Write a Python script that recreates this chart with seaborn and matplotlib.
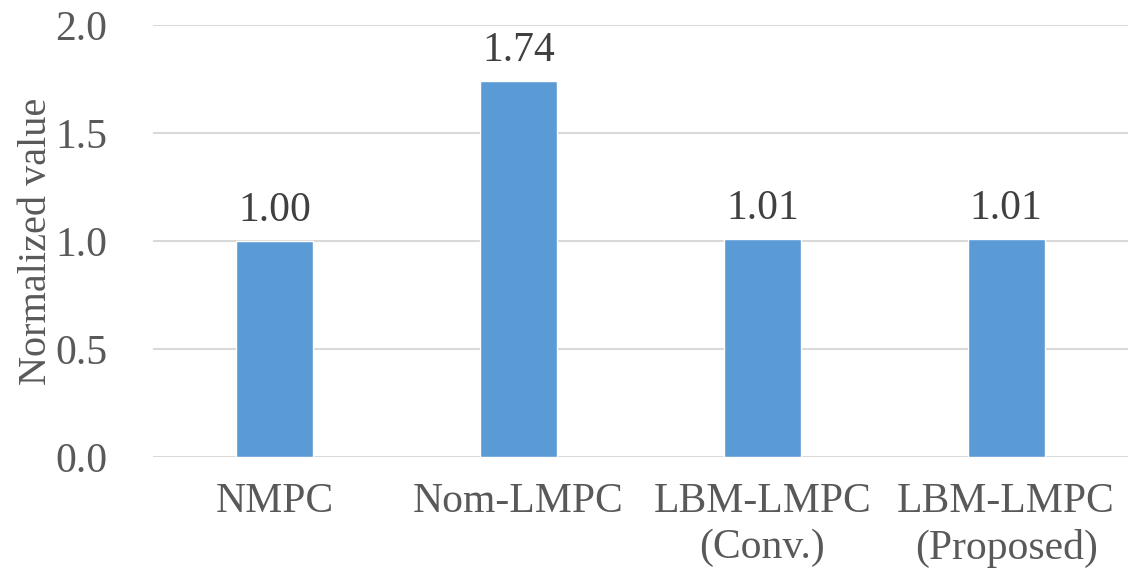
import matplotlib
matplotlib.use("Agg")
import matplotlib.pyplot as plt
from matplotlib import font_manager
import seaborn as sns
import pandas as pd

categories = ["NMPC", "Nom-LMPC", "LBM-LMPC\n(Conv.)", "LBM-LMPC\n(Proposed)"]
values = [1.00, 1.74, 1.01, 1.01]
yticks = [0.0, 0.5, 1.0, 1.5, 2.0]

sns.set_theme(style="white")
installed = {f.name for f in font_manager.fontManager.ttflist}
serif_choices = [n for n in ["Liberation Serif", "Times New Roman", "Nimbus Roman",
                             "DejaVu Serif"] if n in installed]
plt.rcParams["font.family"] = "serif"
plt.rcParams["font.serif"] = serif_choices + ["DejaVu Serif"]

text_color = "#595959"
bar_color = "#5B9BD5"
grid_color = "#D9D9D9"

df = pd.DataFrame({"method": categories, "value": values})

fig = plt.figure(figsize=(11.28, 5.74), dpi=100)
ax = fig.add_axes([0.1356, 0.2038, 0.8644, 0.7526])

sns.barplot(data=df, x="method", y="value", color=bar_color, width=0.315,
            saturation=1, ax=ax, zorder=3)

ax.set_ylim(0, 2.0)
ax.set_yticks(yticks)
ax.set_yticklabels([f"{t:.1f}" for t in yticks])
ax.set_xlim(-0.5, len(categories) - 0.5)

for y in yticks:
    ax.axhline(y, color=grid_color, linewidth=1.5, zorder=1)

for s in ax.spines.values():
    s.set_visible(False)

ax.tick_params(axis="both", length=0, labelsize=30, colors=text_color)
ax.tick_params(axis="y", pad=33)
ax.tick_params(axis="x", pad=18)
for lbl in ax.get_xticklabels():
    lbl.set_linespacing(1.28)

ax.set_xlabel("")
ax.set_ylabel("Normalized value", fontsize=29, color=text_color, labelpad=0)

ax.bar_label(ax.containers[0], labels=[f"{v:.2f}" for v in values],
             padding=8, fontsize=30, color="#404040")

fig.savefig("out.png", dpi=100, facecolor="white")
